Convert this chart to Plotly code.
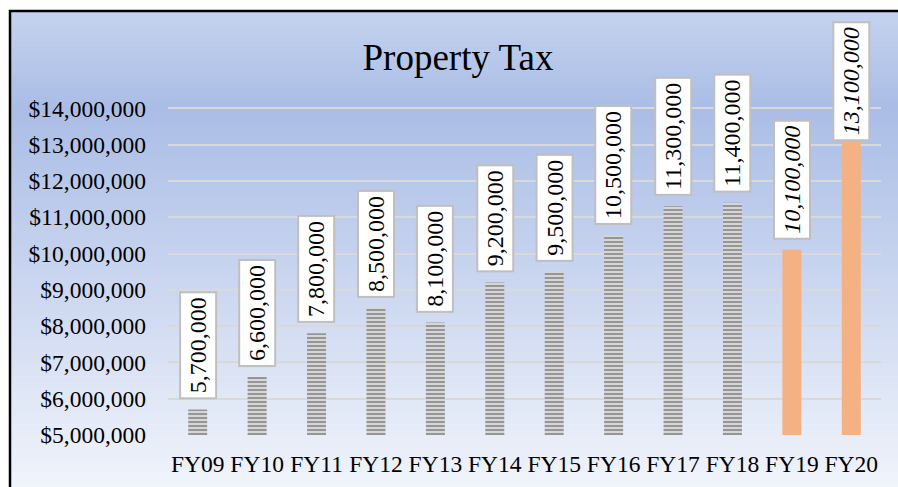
import plotly.graph_objects as go

categories = ["FY09", "FY10", "FY11", "FY12", "FY13", "FY14", "FY15", "FY16", "FY17", "FY18", "FY19", "FY20"]
values = [5700000, 6600000, 7800000, 8500000, 8100000, 9200000, 9500000, 10500000, 11300000, 11400000, 10100000, 13100000]
is_projection = [False] * 10 + [True, True]
y_ticks = [5000000, 6000000, 7000000, 8000000, 9000000, 10000000, 11000000, 12000000, 13000000, 14000000]

W, H = 898, 487
ML, MR, MT, MB = 168, 17, 72, 52
PW, PH = W - ML - MR, H - MT - MB

def px2x(px):
    return (px - ML) / PW

def py2y(py):
    return (H - MB - py) / PH

FONT = "Liberation Serif, Times New Roman, serif"

fig = go.Figure()

hist_x = [c for c, p in zip(categories, is_projection) if not p]
hist_y = [v for v, p in zip(values, is_projection) if not p]
proj_x = [c for c, p in zip(categories, is_projection) if p]
proj_y = [v for v, p in zip(values, is_projection) if p]

fig.add_trace(go.Bar(
    x=hist_x, y=hist_y,
    marker=dict(color="#ffffff", line=dict(width=0),
                pattern=dict(shape="-", fgcolor="#2e2e2e", bgcolor="#ffffff", size=4, solidity=0.7)),
    width=0.32, hoverinfo="skip",
))
fig.add_trace(go.Bar(
    x=proj_x, y=proj_y,
    marker=dict(color="#f4b183", line=dict(width=0)),
    width=0.32, hoverinfo="skip",
))

annotations = []
for i, (c, v, p) in enumerate(zip(categories, values, is_projection)):
    last = i == len(categories) - 1
    annotations.append(dict(
        x=c, y=v, xref="x", yref="y",
        text=f"<i>{v:,}</i>" if p else f"{v:,}",
        textangle=-90, showarrow=False,
        xanchor="center", yanchor="bottom",
        yshift=0 if last else 10,
        font=dict(family=FONT, size=24, color="black"),
        bgcolor="white", bordercolor="#bfbfbf", borderwidth=2, borderpad=4,
    ))

# background gradient
shapes = []
top_py, bot_py = 11, 490
stops = [(0.0, (197, 211, 238)), (0.2, (170, 189, 230)), (1.0, (241, 244, 251))]

def col(t):
    for (t0, c0), (t1, c1) in zip(stops[:-1], stops[1:]):
        if t <= t1:
            f = (t - t0) / (t1 - t0)
            return "rgb(%d,%d,%d)" % tuple(round(a + (b - a) * f) for a, b in zip(c0, c1))
    return "rgb(%d,%d,%d)" % stops[-1][1]

n = 80
step = (bot_py - top_py) / n
for k in range(n):
    y0p = top_py + k * step
    y1p = y0p + step + 0.6
    shapes.append(dict(type="rect", xref="paper", yref="paper",
                       x0=px2x(10), x1=px2x(900), y0=py2y(y1p), y1=py2y(y0p),
                       fillcolor=col((k + 0.5) / n), line=dict(width=0), layer="below"))
shapes.append(dict(type="rect", xref="paper", yref="paper",
                   x0=px2x(10), x1=px2x(902), y0=py2y(495), y1=py2y(11),
                   fillcolor="rgba(0,0,0,0)", line=dict(color="black", width=2.5), layer="above"))

fig.update_layout(
    width=W, height=H,
    margin=dict(l=ML, r=MR, t=MT, b=MB, autoexpand=False),
    paper_bgcolor="white", plot_bgcolor="rgba(0,0,0,0)",
    showlegend=False, barmode="overlay",
    title=dict(text="Property Tax", x=458 / W, xanchor="center", xref="container",
               yref="container", y=1 - 57 / H, yanchor="middle",
               font=dict(family=FONT, size=37, color="black")),
    font=dict(family=FONT, color="black"),
    xaxis=dict(type="category", categoryorder="array", categoryarray=categories,
               showgrid=False, showline=False, ticks="", zeroline=False,
               ticklabelstandoff=12,
               tickfont=dict(family=FONT, size=23.5, color="black")),
    yaxis=dict(range=[5000000, 15000000], tickvals=y_ticks,
               ticktext=[f"${v:,}" for v in y_ticks],
               showgrid=True, gridcolor="#d9d9d9", gridwidth=2,
               zeroline=False, showline=False, ticks="", ticklabelstandoff=21,
               tickfont=dict(family=FONT, size=23.5, color="black")),
    annotations=annotations, shapes=shapes,
)

fig.write_html("out.html", config={"displayModeBar": False},
               post_script="document.body.style.margin='0';document.body.style.overflow='hidden';")
